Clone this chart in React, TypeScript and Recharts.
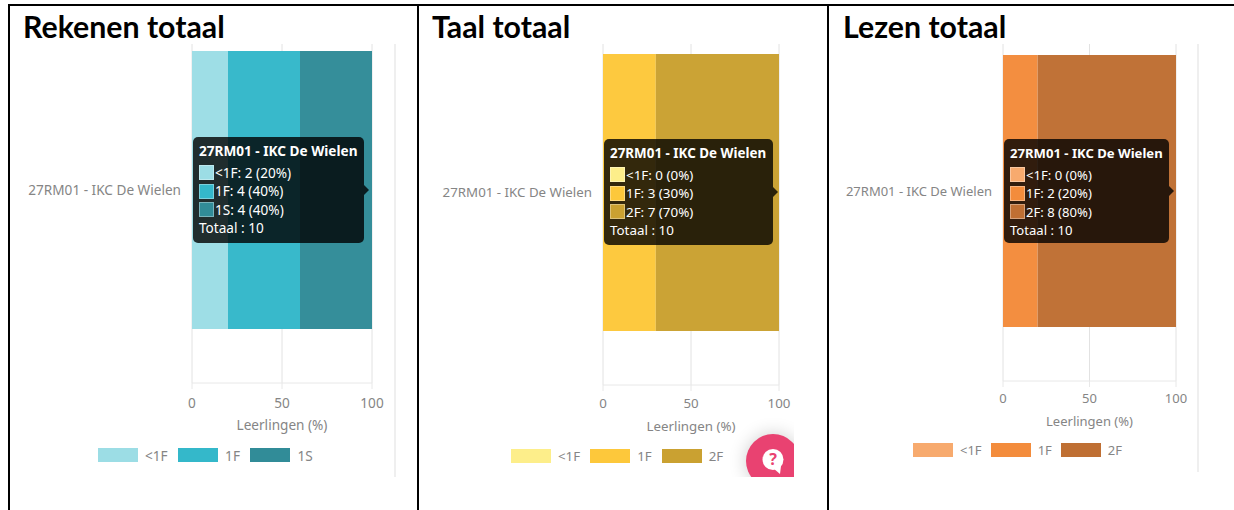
import React from "react";
import { BarChart, Bar, XAxis, YAxis, CartesianGrid, Tooltip, Legend } from "recharts";

const school = "27RM01 - IKC De Wielen";
const percentTicks = [0, 50, 100];
const axisTitle = "Leerlingen (%)";
const totalLabel = "Totaal : 10";

const rekenenNames = ["<1F", "1F", "1S"];
const rekenenCounts = [2, 4, 4];
const rekenenPercents = [20, 40, 40];
const rekenenColors = ["#9cdde5", "#34b8ca", "#318c98"];

const taalNames = ["<1F", "1F", "2F"];
const taalCounts = [0, 3, 7];
const taalPercents = [0, 30, 70];
const taalColors = ["#fdee8a", "#fdc83b", "#caa131"];

const lezenNames = ["<1F", "1F", "2F"];
const lezenCounts = [0, 2, 8];
const lezenPercents = [0, 20, 80];
const lezenColors = ["#f7aa6e", "#f38c3c", "#bf6f33"];

const FONT = "'Noto Sans', sans-serif";
const TICK = "#858585";

type PanelProps = {
  title: string; titleX: number; names: string[]; counts: number[]; percents: number[]; colors: string[];
  left: number; width: number; plotLeft: number; plotRight: number; plotBottom: number;
  barTop: number; barBottom: number; tipX: number; tipY: number; tipW: number; tipH: number;
  legendX: number; legendY: number; tickMarginY: number; titleOffset: number; fs: number; tipFs: number; legendGap: number;
};

const TOP = 44;
const CH = 440;

function Tip({ p, payload }: { p: PanelProps; payload?: any[] }) {
  return (
    <div style={{ position: "relative", width: p.tipW, height: p.tipH, boxSizing: "border-box", background: "rgba(0,0,0,0.8)", borderRadius: 5, color: "#fff", fontFamily: FONT, fontSize: p.tipFs, padding: "5px 6px", lineHeight: "18.5px" }}>
      <div style={{ fontWeight: 700, whiteSpace: "nowrap", marginBottom: 3 }}>{school}</div>
      {(payload || []).map((e, i) => (
        <div key={i} style={{ display: "flex", alignItems: "center", whiteSpace: "nowrap", height: 18.5 }}>
          <span style={{ width: 15, height: 15, background: p.colors[i], border: "1px solid rgba(255,255,255,0.35)", boxSizing: "border-box", marginRight: 1 }} />
          {`${e.name}: ${p.counts[i]} (${e.value}%)`}
        </div>
      ))}
      <div>{totalLabel}</div>
      <div style={{ position: "absolute", left: p.tipW, top: p.tipH / 2 - 5, borderLeft: "5px solid rgba(0,0,0,0.8)", borderTop: "5px solid transparent", borderBottom: "5px solid transparent" }} />
    </div>
  );
}

function Panel(p: PanelProps) {
  const row: Record<string, string | number> = { name: school };
  p.names.forEach((n, i) => { row[n] = p.percents[i]; });
  const data = [row];
  const axisH = 60;
  const bandBottom = p.barBottom + (p.barTop - TOP);
  return (
    <div style={{ position: "absolute", left: p.left, top: TOP, width: p.width, height: CH }}>
      <BarChart width={p.width} height={CH} data={data} layout="vertical" barCategoryGap={0}
        margin={{ top: 0, right: p.left + p.width - p.plotRight, left: 0, bottom: TOP + CH - p.plotBottom - axisH }}>
        <CartesianGrid horizontal={false} stroke="#e2e2e2" strokeWidth={1} />
        <XAxis type="number" domain={[0, 100]} ticks={percentTicks} height={axisH} interval={0}
          stroke="#e8e8e8" tickSize={6} tickMargin={p.tickMarginY}
          tick={{ fill: TICK, fontSize: p.fs, fontFamily: FONT }}
          label={{ value: axisTitle, position: "insideBottom", offset: p.titleOffset, fill: TICK, fontSize: p.fs, fontFamily: FONT }} />
        <YAxis type="category" dataKey="name" width={p.plotLeft - p.left} axisLine={false} tickLine={false} tickMargin={5}
          padding={{ top: 0, bottom: p.plotBottom - bandBottom }}
          tick={{ fill: TICK, fontSize: p.fs, fontFamily: FONT }} />
        <Tooltip active defaultIndex={0} cursor={false} isAnimationActive={false}
          position={{ x: p.tipX - p.left, y: p.tipY - TOP }}
          allowEscapeViewBox={{ x: true, y: true }}
          itemSorter={null as any}
          wrapperStyle={{ outline: "none" }}
          content={(props: any) => <Tip p={p} payload={props.payload} />} />
        <Legend verticalAlign="middle" itemSorter={null as any}
          wrapperStyle={{ position: "absolute", left: p.legendX - p.left, top: p.legendY - TOP, width: 280, height: 16 }}
          content={(props: any) => (
            <div style={{ display: "flex", alignItems: "center", fontFamily: FONT, fontSize: p.fs, color: TICK, height: 14 }}>
              {(props.payload || []).map((e: any, i: number) => (
                <div key={i} style={{ display: "flex", alignItems: "center", marginRight: p.legendGap }}>
                  <span style={{ width: 40, height: 14, background: e.color, marginRight: 7 }} />
                  <span>{e.value}</span>
                </div>
              ))}
            </div>
          )} />
        {p.names.map((n, i) => (
          <Bar key={n} dataKey={n} name={n} stackId="a" fill={p.colors[i]} fillOpacity={0.98} barSize={p.barBottom - p.barTop} isAnimationActive={false} />
        ))}
      </BarChart>
    </div>
  );
}

const panels: PanelProps[] = [
  { title: "Rekenen totaal", titleX: 23, names: rekenenNames, counts: rekenenCounts, percents: rekenenPercents, colors: rekenenColors,
    left: 11, width: 395, plotLeft: 192, plotRight: 372, plotBottom: 383, barTop: 51, barBottom: 329,
    tipX: 193, tipY: 137, tipW: 171, tipH: 106, legendX: 98, legendY: 448, tickMarginY: 9, titleOffset: 13, fs: 13.6, tipFs: 13.6, legendGap: 10.5 },
  { title: "Taal totaal", titleX: 432, names: taalNames, counts: taalCounts, percents: taalPercents, colors: taalColors,
    left: 420, width: 395, plotLeft: 603, plotRight: 779, plotBottom: 385, barTop: 54, barBottom: 331,
    tipX: 604, tipY: 139, tipW: 169, tipH: 106, legendX: 511, legendY: 449, tickMarginY: 8, titleOffset: 14, fs: 13.3, tipFs: 13.4, legendGap: 10 },
  { title: "Lezen totaal", titleX: 843, names: lezenNames, counts: lezenCounts, percents: lezenPercents, colors: lezenColors,
    left: 830, width: 395, plotLeft: 1003, plotRight: 1176, plotBottom: 381, barTop: 55, barBottom: 327,
    tipX: 1004, tipY: 139, tipW: 165, tipH: 104, legendX: 913, legendY: 443, tickMarginY: 7, titleOffset: 15, fs: 13, tipFs: 13.1, legendGap: 9 },
];

const rule = (l: number, t: number, w: number, h: number, c: string): React.CSSProperties => ({ position: "absolute", left: l, top: t, width: w, height: h, background: c });

export default function App() {
  return (
    <div style={{ position: "absolute", left: 0, top: 0, width: 1234, height: 510, overflow: "hidden", background: "#fff" }}>
      {panels.map((p) => <Panel key={p.title} {...p} />)}
      {panels.map((p) => (
        <div key={p.title} style={{ position: "absolute", left: p.titleX, top: 7, fontFamily: "Lato, sans-serif", fontWeight: 700, fontSize: 30.3, lineHeight: "38px", color: "#000", whiteSpace: "nowrap" }}>{p.title}</div>
      ))}
      <div style={rule(8, 4, 1226, 2, "#000")} />
      <div style={rule(8, 4, 2, 506, "#000")} />
      <div style={rule(417, 4, 2, 506, "#000")} />
      <div style={rule(827, 4, 2, 506, "#000")} />
      <div style={rule(394, 44, 2, 433, "#efefef")} />
      <div style={rule(1197, 44, 2, 428, "#efefef")} />
      <div style={{ position: "absolute", left: 700, top: 400, width: 94, height: 77, overflow: "hidden" }}>
        <div style={{ position: "absolute", left: 46, top: 34, width: 54, height: 54, borderRadius: "50%", background: "#e94271", boxShadow: "0 0 18px rgba(0,0,0,0.2)" }} />
        <svg style={{ position: "absolute", left: 60, top: 46 }} width="28" height="30">
          <circle cx="13" cy="13.5" r="10.5" fill="#fff" />
          <path d="M13 22 L21 20 L20 28 Z" fill="#fff" />
          <text x="13" y="19" textAnchor="middle" fontFamily="'Noto Sans', sans-serif" fontWeight="700" fontSize="16" fill="#e94271">?</text>
        </svg>
      </div>
    </div>
  );
}
